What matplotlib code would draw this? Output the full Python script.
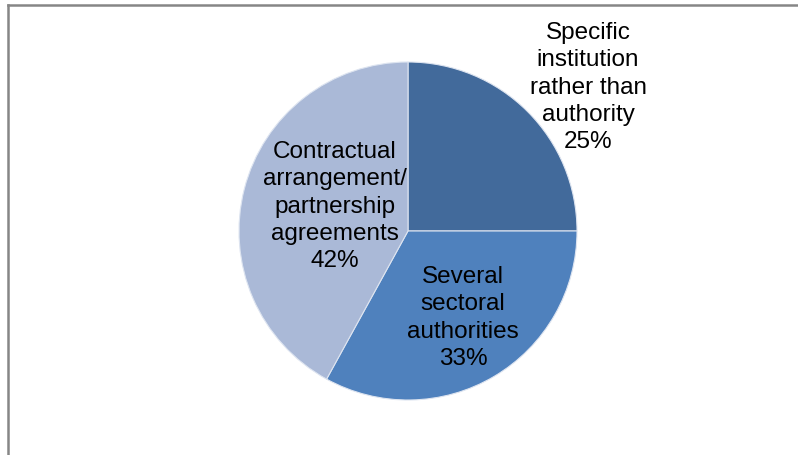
import matplotlib
matplotlib.use("Agg")
import matplotlib.pyplot as plt
from matplotlib.lines import Line2D

plt.rcParams['font.family'] = ['Liberation Sans', 'DejaVu Sans']

categories = ["Specific\ninstitution\nrather than\nauthority",
              "Several\nsectoral\nauthorities",
              "Contractual\narrangement/\npartnership\nagreements"]
shares = [25, 33, 42]
colors = ["#426A9B", "#4F81BD", "#AAB9D7"]

W, H = 798, 455
fig = plt.figure(figsize=(W / 100, H / 100), dpi=100)

cx, cy, R = 408, 231, 169
half = 220
ax = fig.add_axes([(cx - half) / W, (H - cy - half) / H, 2 * half / W, 2 * half / H])
wedges, _ = ax.pie(shares, colors=colors, startangle=90, counterclock=False,
                   radius=1.0, wedgeprops=dict(edgecolor="#DDE4F0", linewidth=0.8))
lim = half / R
ax.set_xlim(-lim, lim)
ax.set_ylim(-lim, lim)
ax.set_aspect('equal')
ax.axis('off')

# label centres (layout), in radius units relative to pie centre
label_pos = [(180 / R, 143.5 / R), (55 / R, -87 / R), (-73 / R, 24.5 / R)]
for cat, val, (lx, ly) in zip(categories, shares, label_pos):
    ax.text(lx, ly, f"{cat}\n{val}%", ha='center', va='center',
            fontsize=17.5, linespacing=1.31, color='black')

# chart-area frame (top and left edges visible)
fig.add_artist(Line2D([7.5 / W, 1.0], [1 - 4.5 / H, 1 - 4.5 / H],
                      transform=fig.transFigure, color="#868686", lw=1.8))
fig.add_artist(Line2D([7.5 / W, 7.5 / W], [0, 1 - 4.5 / H],
                      transform=fig.transFigure, color="#868686", lw=1.8))

fig.savefig("out.png", dpi=100)
